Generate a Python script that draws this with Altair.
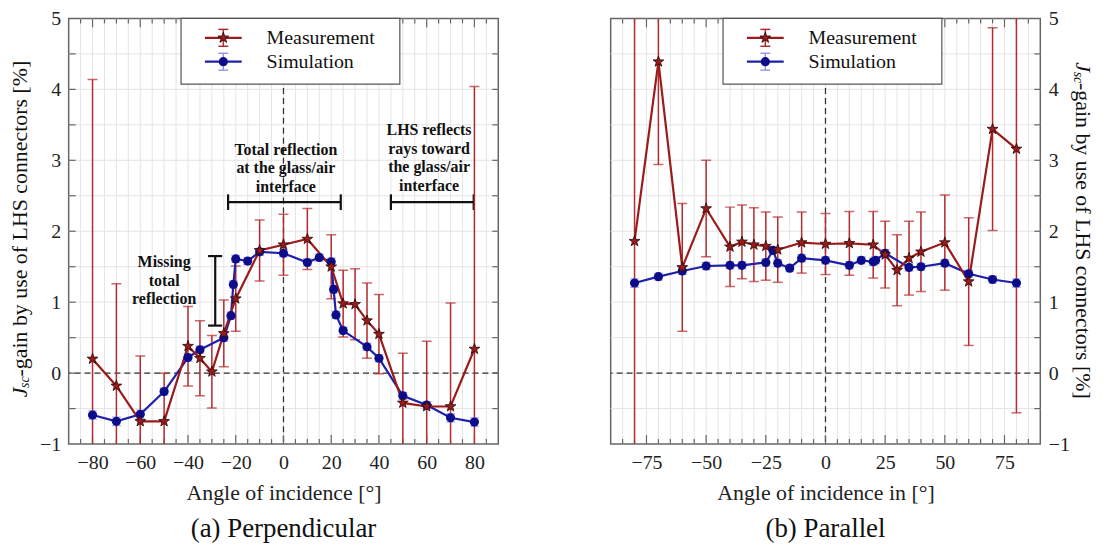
import altair as alt
import pandas as pd

# ---------------- data ----------------
# (a) Perpendicular
a_meas_angle = [-80, -70, -60, -50, -40, -35, -30, -25, -20, -10, 0, 10, 20, 25, 30, 35, 40, 50, 60, 70, 80]
a_meas_val = [0.20, -0.18, -0.68, -0.68, 0.38, 0.21, 0.02, 0.56, 1.05, 1.73, 1.81, 1.89, 1.50, 0.98, 0.97, 0.74, 0.55, -0.42, -0.47, -0.47, 0.34]
a_meas_err = [3.94, 1.44, 0.92, 0.68, 0.56, 0.53, 0.51, 0.47, 0.46, 0.43, 0.43, 0.43, 0.45, 0.47, 0.50, 0.53, 0.56, 0.70, 0.92, 1.46, 3.70]

a_sim_angle = [-80, -70, -60, -50, -40, -35, -25, -22, -21, -20, -15, -10, 0, 10, 15, 20, 21, 22, 25, 35, 40, 50, 60, 70, 80]
a_sim_val = [-0.59, -0.68, -0.58, -0.26, 0.22, 0.33, 0.50, 0.81, 1.25, 1.61, 1.58, 1.71, 1.69, 1.56, 1.63, 1.57, 1.18, 0.82, 0.60, 0.37, 0.21, -0.32, -0.45, -0.63, -0.69]
a_sim_err = [0.06, 0.06, 0.06, 0.05, 0.05, 0.05, 0.05, 0.05, 0.05, 0.05, 0.05, 0.05, 0.05, 0.05, 0.05, 0.05, 0.05, 0.05, 0.05, 0.05, 0.05, 0.05, 0.05, 0.06, 0.06]

# (b) Parallel
b_meas_angle = [-80, -70, -60, -50, -40, -35, -30, -25, -20, -10, 0, 10, 20, 25, 30, 35, 40, 50, 60, 70, 80]
b_meas_val = [1.86, 4.39, 1.49, 2.32, 1.78, 1.85, 1.81, 1.79, 1.74, 1.84, 1.82, 1.83, 1.81, 1.67, 1.45, 1.62, 1.71, 1.84, 1.29, 3.44, 3.16]
b_meas_err = [3.60, 1.45, 0.90, 0.68, 0.56, 0.52, 0.52, 0.48, 0.46, 0.43, 0.43, 0.45, 0.47, 0.47, 0.50, 0.52, 0.56, 0.67, 0.90, 1.43, 3.72]

b_sim_angle = [-80, -70, -60, -50, -40, -35, -25, -22, -20, -15, -10, 0, 10, 15, 20, 21, 25, 35, 40, 50, 60, 70, 80]
b_sim_val = [1.27, 1.36, 1.44, 1.51, 1.52, 1.52, 1.56, 1.73, 1.55, 1.48, 1.62, 1.59, 1.52, 1.59, 1.57, 1.59, 1.69, 1.49, 1.50, 1.55, 1.40, 1.32, 1.27]
b_sim_err = [0.06, 0.05, 0.05, 0.05, 0.05, 0.05, 0.05, 0.05, 0.05, 0.05, 0.05, 0.05, 0.05, 0.05, 0.05, 0.05, 0.05, 0.05, 0.05, 0.05, 0.05, 0.05, 0.06]

# annotations of panel (a)
total_text = ["Total reflection", "at the glass/air", "interface"]
total_text_x = [1, 1, 1]
total_text_y = [3.15, 2.89, 2.63]
lhs_text = ["LHS reflects", "rays toward", "the glass/air", "interface"]
lhs_text_x = [61, 61, 61, 61]
lhs_text_y = [3.42, 3.16, 2.90, 2.64]
miss_text = ["Missing", "total", "reflection"]
miss_text_x = [-50, -50, -50]
miss_text_y = [1.56, 1.30, 1.04]
# brackets: (x, y, x2, y2)
brackets = [
    (-23.2, 2.41, 24.0, 2.41), (-23.2, 2.30, -23.2, 2.52), (24.0, 2.30, 24.0, 2.52),
    (45.0, 2.41, 79.7, 2.41), (45.0, 2.30, 45.0, 2.52), (79.7, 2.30, 79.7, 2.52),
    (-28.6, 0.67, -28.6, 1.65), (-31.6, 0.67, -25.7, 0.67), (-31.6, 1.65, -25.7, 1.65),
]

# ---------------- styling ----------------
FONT = "Liberation Serif"
W, H = 432, 428
XS = alt.Scale(domain=[-90, 90], nice=False, zero=False)
YS = alt.Scale(domain=[-1, 5], nice=False, zero=False)
RED, RED_ERR, RED_EDGE = "#9a1b1b", "#b52a2c", "#2a0505"
BLUE, BLUE_PT, BLUE_ERR = "#1f1fa8", "#0d0d8c", "#8c8ce6"
AXC = "#666666"
GRID = "#e4e4e4"
STAR = ("M0,-1L0.235,-0.324L0.951,-0.309L0.38,0.124L0.588,0.809L0,0.4"
        "L-0.588,0.809L-0.38,0.124L-0.951,-0.309L-0.235,-0.324Z")
one = pd.DataFrame({"k": [0]})


def series(ang, val, err):
    d = pd.DataFrame({"angle": ang, "val": val, "err": err})
    d["lo"] = d["val"] - d["err"]
    d["hi"] = d["val"] + d["err"]
    caps = pd.concat([
        pd.DataFrame({"angle": d["angle"], "y": d["lo"]}),
        pd.DataFrame({"angle": d["angle"], "y": d["hi"]}),
    ])
    return d, caps


def vrule(x, y, y2, color, width):
    return alt.Chart(one).mark_rule(color=color, strokeWidth=width).encode(
        x=alt.value(x), y=alt.value(y), y2=alt.value(y2))


def hrule(x, x2, y, color, width):
    return alt.Chart(one).mark_rule(color=color, strokeWidth=width).encode(
        x=alt.value(x), x2=alt.value(x2), y=alt.value(y))


def legend_layers():
    bx0, bx1 = 113, 333
    L = []
    L.append(alt.Chart(one).mark_rect(fill="white", stroke="#555", strokeWidth=1.2).encode(
        x=alt.value(bx0), x2=alt.value(bx1), y=alt.value(0), y2=alt.value(66)))
    cx = 155.5
    L.append(hrule(137, 174, 19.5, RED, 2.2))
    L.append(vrule(cx, 11, 28, RED_ERR, 1.5))
    L.append(hrule(cx - 5, cx + 5, 11, RED_ERR, 1.5))
    L.append(hrule(cx - 5, cx + 5, 28, RED_ERR, 1.5))
    L.append(alt.Chart(one).mark_point(shape=STAR, filled=True, color=RED, stroke=RED_EDGE,
                                       strokeWidth=0.8, size=130, opacity=1).encode(
        x=alt.value(cx), y=alt.value(19.5)))
    L.append(hrule(137, 174, 43.5, BLUE, 2.2))
    L.append(vrule(cx, 35, 52, BLUE_ERR, 1.3))
    L.append(hrule(cx - 5, cx + 5, 35, BLUE_ERR, 1.3))
    L.append(hrule(cx - 5, cx + 5, 52, BLUE_ERR, 1.3))
    L.append(alt.Chart(one).mark_point(shape="circle", filled=True, color=BLUE_PT, size=85, opacity=1).encode(
        x=alt.value(cx), y=alt.value(43.5)))
    for txt, yy in (("Measurement", 19.5), ("Simulation", 43.5)):
        L.append(alt.Chart(one).mark_text(text=txt, font=FONT, fontSize=20, align="left",
                                          baseline="middle", color="#111").encode(
            x=alt.value(199), y=alt.value(yy)))
    return L


def ytitle_layers(side):
    L = []
    fs = 22
    if side == "left":
        x0, y0, ang, sub = -49, 381, 270, 5
        step = -1
    else:
        x0, y0, ang, sub = W + 43, 44, 90, -5
        step = 1
    L.append(alt.Chart(one).mark_text(text="J", font=FONT, fontSize=fs, fontStyle="italic",
                                      angle=ang, align="left", baseline="middle", color="#111").encode(
        x=alt.value(x0), y=alt.value(y0)))
    L.append(alt.Chart(one).mark_text(text="sc", font=FONT, fontSize=14, fontStyle="italic",
                                      angle=ang, align="left", baseline="middle", color="#111").encode(
        x=alt.value(x0 + sub), y=alt.value(y0 + step * 9.5)))
    L.append(alt.Chart(one).mark_text(text="-gain by use of LHS connectors [%]", font=FONT, fontSize=fs,
                                      angle=ang, align="left", baseline="middle", color="#111").encode(
        x=alt.value(x0), y=alt.value(y0 + step * 21)))
    return L


def panel(m_ang, m_val, m_err, s_ang, s_val, s_err, label_step, xtitle, caption, side):
    m, mc = series(m_ang, m_val, m_err)
    s, sc = series(s_ang, s_val, s_err)
    xlabels = [v for v in range(-90, 91, 5) if v % label_step == 0 and abs(v) < 90]
    xaxis = alt.Axis(values=xlabels, grid=False, ticks=False, domain=False,
                     labelFontSize=20, labelPadding=9, labelOverlap=False, labelFlush=False,
                     title=xtitle, titleFontSize=22, titleFontWeight="normal", titlePadding=10)
    yaxis = alt.Axis(values=[-1, 0, 1, 2, 3, 4, 5], grid=False, ticks=False, domain=False,
                     labelFontSize=20, labelPadding=8, labelOverlap=False, labelFlush=False,
                     title=None, orient=side)

    def X(field):
        return alt.X(field, scale=XS, axis=xaxis)

    def Y(field):
        return alt.Y(field, scale=YS, axis=yaxis)

    layers = []
    # grid
    gx = pd.DataFrame({"g": list(range(-85, 90, 5))})
    gy = pd.DataFrame({"g": [-0.5 + 0.5 * i for i in range(11)]})
    layers.append(alt.Chart(gx).mark_rule(color=GRID, strokeWidth=1).encode(x=X("g:Q")))
    layers.append(alt.Chart(gy).mark_rule(color=GRID, strokeWidth=1).encode(y=Y("g:Q")))
    # zero lines
    zero = pd.DataFrame({"z": [0]})
    layers.append(alt.Chart(zero).mark_rule(color="#333", strokeDash=[6, 4], strokeWidth=1.3).encode(x=X("z:Q")))
    layers.append(alt.Chart(zero).mark_rule(color="#333", strokeDash=[6, 4], strokeWidth=1.3).encode(y=Y("z:Q")))
    # inward ticks
    xt = pd.DataFrame({"v": list(range(-85, 90, 5))})
    maj = xt[xt["v"] % label_step == 0]
    mnr = xt[xt["v"] % label_step != 0]
    for df, ln in ((maj, 9), (mnr, 5)):
        layers.append(alt.Chart(df).mark_rule(color=AXC, strokeWidth=1.2).encode(
            x=X("v:Q"), y=alt.value(H), y2=alt.value(H - ln)))
        layers.append(alt.Chart(df).mark_rule(color=AXC, strokeWidth=1.2).encode(
            x=X("v:Q"), y=alt.value(0), y2=alt.value(ln)))
    yt = pd.DataFrame({"v": [-0.5 + 0.5 * i for i in range(11)]})
    if side == "left":
        layers.append(alt.Chart(yt).mark_rule(color=AXC, strokeWidth=1.2).encode(
            y=Y("v:Q"), x=alt.value(0), x2=alt.value(7)))
    layers.append(alt.Chart(yt).mark_rule(color=AXC, strokeWidth=1.2).encode(
        y=Y("v:Q"), x=alt.value(W), x2=alt.value(W - 6)))
    # annotations
    if side == "left":
        for lines, xs, ys in ((total_text, total_text_x, total_text_y),
                              (lhs_text, lhs_text_x, lhs_text_y),
                              (miss_text, miss_text_x, miss_text_y)):
            df = pd.DataFrame({"t": lines, "x": xs, "y": ys})
            layers.append(alt.Chart(df).mark_text(font=FONT, fontSize=16, fontWeight="bold", color="#111",
                                                  align="center", baseline="middle").encode(
                x=X("x:Q"), y=Y("y:Q"), text="t:N"))
        bdf = pd.DataFrame(brackets, columns=["x", "y", "x2", "y2"])
        layers.append(alt.Chart(bdf).mark_rule(color="#111", strokeWidth=2.2).encode(
            x=X("x:Q"), y=Y("y:Q"), x2="x2:Q", y2="y2:Q"))
    # error bars
    layers.append(alt.Chart(m).mark_rule(color=RED_ERR, strokeWidth=1.5, clip=True).encode(
        x=X("angle:Q"), y=Y("lo:Q"), y2="hi:Q"))
    layers.append(alt.Chart(mc).mark_tick(color=RED_ERR, orient="horizontal", size=10, thickness=1.5,
                                          clip=True).encode(x=X("angle:Q"), y=Y("y:Q")))
    layers.append(alt.Chart(s).mark_rule(color=BLUE_ERR, strokeWidth=1.3, clip=True).encode(
        x=X("angle:Q"), y=Y("lo:Q"), y2="hi:Q"))
    layers.append(alt.Chart(sc).mark_tick(color=BLUE_ERR, orient="horizontal", size=9, thickness=1.2,
                                          clip=True).encode(x=X("angle:Q"), y=Y("y:Q")))
    # lines & markers
    layers.append(alt.Chart(s).mark_line(color=BLUE, strokeWidth=2.2).encode(x=X("angle:Q"), y=Y("val:Q")))
    layers.append(alt.Chart(m).mark_line(color=RED, strokeWidth=2.2).encode(x=X("angle:Q"), y=Y("val:Q")))
    layers.append(alt.Chart(s).mark_point(shape="circle", filled=True, color=BLUE_PT, size=85, opacity=1).encode(
        x=X("angle:Q"), y=Y("val:Q")))
    layers.append(alt.Chart(m).mark_point(shape=STAR, filled=True, color=RED, stroke=RED_EDGE, strokeWidth=0.8,
                                          size=130, opacity=1).encode(x=X("angle:Q"), y=Y("val:Q")))
    layers += legend_layers()
    layers += ytitle_layers(side)
    return alt.layer(*layers).properties(
        width=W, height=H,
        title=alt.TitleParams(caption, orient="bottom", anchor="middle", frame="group", font=FONT,
                              fontSize=27, fontWeight="normal", color="#111", offset=12))


left = panel(a_meas_angle, a_meas_val, a_meas_err, a_sim_angle, a_sim_val, a_sim_err,
             20, "Angle of incidence [°]", "(a) Perpendicular", "left")
right = panel(b_meas_angle, b_meas_val, b_meas_err, b_sim_angle, b_sim_val, b_sim_err,
              25, "Angle of incidence in [°]", "(b) Parallel", "right")

chart = alt.hconcat(left, right, spacing=109).properties(
    padding={"left": 0, "top": -2, "right": 0, "bottom": 0}
).configure_view(stroke=AXC, strokeWidth=1.5).configure_axis(
    labelFont=FONT, titleFont=FONT, labelColor="#222", titleColor="#222"
)

chart.save("out.html", embed_options={"renderer": "svg", "actions": False})
